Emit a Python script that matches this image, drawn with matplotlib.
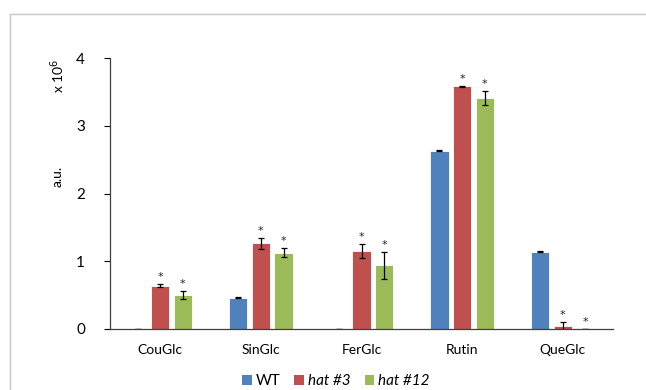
import matplotlib.pyplot as plt
import numpy as np
from matplotlib.patches import Rectangle, Patch

categories = ["CouGlc", "SinGlc", "FerGlc", "Rutin", "QueGlc"]
series_names = ["WT", "hat #3", "hat #12"]
wt = [0.0, 0.46, 0.0, 2.63, 1.14]
hat3 = [0.64, 1.265, 1.15, 3.58, 0.045]
hat12 = [0.50, 1.125, 0.94, 3.41, 0.0]
wt_err = [0.0, 0.005, 0.0, 0.005, 0.005]
hat3_err = [0.02, 0.08, 0.10, 0.005, 0.06]
hat12_err = [0.055, 0.065, 0.195, 0.10, 0.0]
# significance markers (True = asterisk)
hat3_sig = [True, True, True, True, True]
hat12_sig = [True, True, True, True, True]
yticks = [0, 1, 2, 3, 4]

colors = ["#4F81BD", "#C0504D", "#9BBB59"]
plt.rcParams['font.family'] = ['Lato', 'DejaVu Sans']

fig = plt.figure(figsize=(6.46, 3.9), dpi=100)
# light frame around the chart area
fig.patches.append(Rectangle((9.5 / 646, -0.1), 1.2, 1 - 14 / 390 + 0.1,
                             transform=fig.transFigure, fill=False,
                             edgecolor="#c6c6c6", linewidth=1.0))

ax = fig.add_axes([110 / 646, 1 - 329 / 390, (613 - 110) / 646, (329 - 58) / 390])
x = np.arange(len(categories))
w = 0.18
step = 0.225
series = [(wt, wt_err, None), (hat3, hat3_err, hat3_sig), (hat12, hat12_err, hat12_sig)]
for i, (vals, errs, sig) in enumerate(series):
    pos = x + (i - 1) * step
    ax.bar(pos, vals, width=w, color=colors[i], edgecolor="white", linewidth=0.6,
           yerr=errs, error_kw=dict(ecolor="black", elinewidth=0.9, capsize=2.5, capthick=0.9),
           zorder=2)
    if sig is not None:
        for p, v, e, s in zip(pos, vals, errs, sig):
            if s:
                ax.text(p, v + e + 0.03, "*", ha="center", va="bottom", fontsize=8,
                        family="DejaVu Sans", color="#222222")

ax.set_xlim(-0.5, len(categories) - 0.5)
ax.set_ylim(0, 4)
ax.set_yticks(yticks)
ax.set_yticklabels([str(t) for t in yticks], fontsize=11)
ax.set_xticks(x)
ax.set_xticklabels(categories, fontsize=10)
ax.tick_params(axis="x", length=0, pad=11)
ax.tick_params(axis="y", length=4, width=0.8, pad=14)
for s in ["top", "right"]:
    ax.spines[s].set_visible(False)
for s in ["left", "bottom"]:
    ax.spines[s].set_color("#404040")
    ax.spines[s].set_linewidth(0.9)

fig.text(58 / 646, 1 - 176 / 390, "a.u.", rotation=90, ha="center", va="center", fontsize=10)
fig.text(58 / 646, 1 - 76 / 390, "x 10$^6$", rotation=90, ha="center", va="center", fontsize=10)

handles = [Patch(facecolor=c) for c in colors]
leg = fig.legend(handles, series_names, loc="center", bbox_to_anchor=(336 / 646, 1 - 381 / 390),
                 ncol=3, frameon=False, fontsize=11, handlelength=0.65, handleheight=0.65,
                 handletextpad=0.25, columnspacing=0.9)
for t in leg.get_texts()[1:]:
    t.set_style("italic")

fig.savefig("out.png", dpi=100)
